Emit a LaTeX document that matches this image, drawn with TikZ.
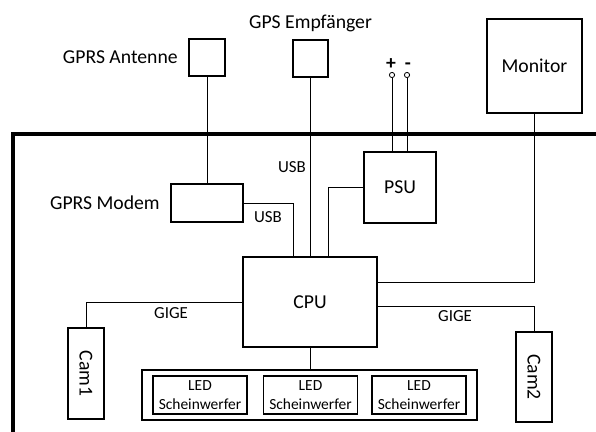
\documentclass[tikz,border=0pt]{standalone}
\usepackage{fontspec}
\setmainfont{Carlito}
\usepackage{graphicx}
\usetikzlibrary{positioning,calc}

\begin{document}
\begin{tikzpicture}[
  x=0.025cm, y=-0.025cm,
  box/.style={rectangle, draw, line width=1.15pt, inner sep=0pt, align=center, font=\fontsize{14}{17}\selectfont},
  ledbox/.style={rectangle, draw, line width=0.9pt, minimum width=2.35cm, minimum height=0.95cm, inner sep=0pt, align=center, font=\fontsize{11}{13.5}\selectfont},
  lbl/.style={inner sep=1pt, font=\fontsize{14}{17}\selectfont},
  bus/.style={inner sep=1pt, font=\fontsize{12}{14}\selectfont},
  wire/.style={line width=0.6pt},
  term/.style={circle, draw, line width=0.6pt, fill=white, inner sep=0pt, minimum size=0.13cm},
  frame/.style={line width=2.6pt}
]
\useasboundingbox (0,0) rectangle (596,432);

% Housing
\draw[frame] (13,432) |- (596,134);

% Outside parts
\node[box, minimum width=0.9cm, minimum height=0.925cm] (ant) at (207,57.5) {};
\node[lbl, left=0.22cm of ant] {GPRS Antenne};
\node[box, minimum width=0.875cm, minimum height=0.925cm] (gps) at (310.5,58.5) {};
\node[lbl, above=0.15cm of gps] {GPS Empfänger};
\node[box, minimum width=2.375cm, minimum height=2.35cm] (mon) at (534.5,66) {Monitor};
\node[term] (plus) at (392,75) {};
\node[term] (minus) at (407,75) {};
\node[lbl, anchor=base, font=\fontsize{14}{17}\selectfont\bfseries] at (391,69.5) {+};
\node[lbl, anchor=base, font=\fontsize{14}{17}\selectfont\bfseries] at (408,69.5) {-};

% Inside parts
\node[box, minimum width=1.8cm, minimum height=0.95cm] (modem) at (207,203) {};
\node[lbl, left=0.22cm of modem] {GPRS Modem};
\node[box, minimum width=1.8cm, minimum height=1.775cm] (psu) at (400,187.5) {PSU};
\node[box, minimum width=3.35cm, minimum height=2.25cm] (cpu) at (310,302) {CPU};
\node[box, minimum width=0.9cm, minimum height=2.275cm] (cam1) at (86,373.5) {\rotatebox{-90}{Cam1}};
\node[box, minimum width=0.9cm, minimum height=2.25cm] (cam2) at (534,377) {\rotatebox{-90}{Cam2}};

% LED bar
\node[box, minimum width=8.375cm, minimum height=1.25cm] (led) at (309.5,395) {};
\node[ledbox] (led1) at (200,395) {LED\\Scheinwerfer};
\node[ledbox] (led2) at (310.5,395) {LED\\Scheinwerfer};
\node[ledbox] (led3) at (419,395) {LED\\Scheinwerfer};

% Wires
\draw[wire] (ant) -- (modem);
\draw[wire] (gps) -- (gps |- cpu.north);
\draw[wire] (modem.east) -| ([xshift=-0.425cm]cpu.north);
\draw[wire] (psu.west) -| ([xshift=0.45cm]cpu.north);
\draw[wire] (plus) -- (plus |- psu.north);
\draw[wire] (minus) -- (minus |- psu.north);
\draw[wire] (mon) |- ([yshift=0.5cm]cpu.east);
\draw[wire] ([yshift=-0.1cm]cpu.east) -| (cam2);
\draw[wire] (cpu.west) -| (cam1);
\draw[wire] (cpu) -- (cpu |- led.north);

% Bus labels
\node[bus] (usbgps) at (292,167) {USB};
\node[bus] (usbmodem) at (268,217) {USB};
\node[bus] (gige1) at (171,313) {GIGE};
\node[bus] (gige2) at (455,316) {GIGE};

\end{tikzpicture}
\end{document}
